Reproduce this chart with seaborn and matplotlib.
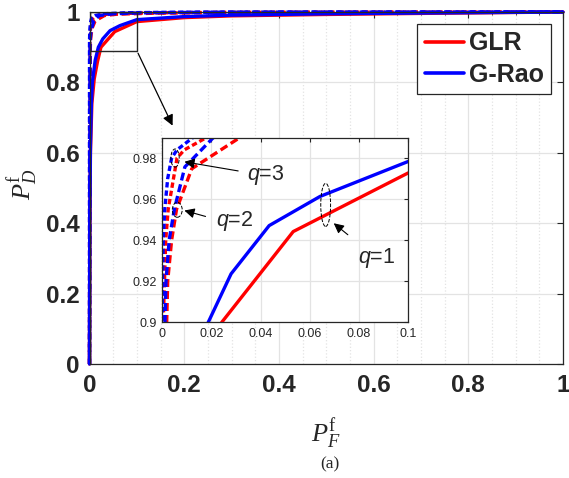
import numpy as np
import pandas as pd
import seaborn as sns
import matplotlib.pyplot as plt
from matplotlib.lines import Line2D
from matplotlib.patches import Rectangle, Ellipse
from matplotlib.ticker import FuncFormatter, MultipleLocator

# ROC points (PF, PD) for each detector / q
glr_q1_pf = [0, 0.0005, 0.002, 0.005, 0.01, 0.017, 0.0242, 0.0533, 0.1, 0.2, 0.3, 0.5, 0.7, 1.0]
glr_q1_pd = [0, 0.35, 0.6, 0.74, 0.81, 0.86, 0.9, 0.9442, 0.9727, 0.984, 0.989, 0.993, 0.996, 1.0]
rao_q1_pf = [0, 0.0005, 0.002, 0.004, 0.006, 0.012, 0.0187, 0.028, 0.0435, 0.0642, 0.1, 0.2, 0.3, 0.5, 0.7, 1.0]
rao_q1_pd = [0, 0.4, 0.62, 0.74, 0.80, 0.863, 0.9, 0.9236, 0.9471, 0.9613, 0.9783, 0.987, 0.991, 0.995, 0.997, 1.0]

glr_q2_pf = [0, 0.0018, 0.0022, 0.0038, 0.0058, 0.012, 0.0316, 0.06, 0.15, 0.35, 1.0]
glr_q2_pd = [0, 0.9, 0.92, 0.94, 0.955, 0.9748, 0.99, 0.994, 0.997, 0.999, 1.0]
rao_q2_pf = [0, 0.0011, 0.0015, 0.0028, 0.0049, 0.0092, 0.0208, 0.05, 0.12, 0.3, 1.0]
rao_q2_pd = [0, 0.9, 0.92, 0.94, 0.955, 0.9757, 0.99, 0.995, 0.998, 0.9995, 1.0]

glr_q3_pf = [0, 0.0004, 0.0009, 0.0014, 0.0024, 0.006, 0.009, 0.018, 0.04, 0.1, 0.25, 1.0]
glr_q3_pd = [0, 0.9, 0.92, 0.94, 0.955, 0.98, 0.984, 0.99, 0.994, 0.997, 0.999, 1.0]
rao_q3_pf = [0, 0, 0.0001, 0.0004, 0.001, 0.0022, 0.0038, 0.006, 0.0125, 0.03, 0.08, 0.2, 1.0]
rao_q3_pd = [0, 0.9, 0.92, 0.94, 0.955, 0.97, 0.98, 0.984, 0.99, 0.995, 0.998, 0.9995, 1.0]

methods = ['GLR', 'G-Rao']
curves = [
    ('GLR', 1, glr_q1_pf, glr_q1_pd), ('G-Rao', 1, rao_q1_pf, rao_q1_pd),
    ('GLR', 2, glr_q2_pf, glr_q2_pd), ('G-Rao', 2, rao_q2_pf, rao_q2_pd),
    ('GLR', 3, glr_q3_pf, glr_q3_pd), ('G-Rao', 3, rao_q3_pf, rao_q3_pd),
]
rows = []
for m, q, pf, pd_ in curves:
    for a, b in zip(pf, pd_):
        rows.append({'method': m, 'q': q, 'PF': a, 'PD': b})
df = pd.DataFrame(rows)

sns.set_style('white')
plt.rcParams['font.family'] = ['Liberation Sans', 'DejaVu Sans']
plt.rcParams['mathtext.fontset'] = 'custom'
plt.rcParams['mathtext.rm'] = 'Liberation Serif'
plt.rcParams['mathtext.it'] = 'Liberation Serif:italic'
plt.rcParams['mathtext.sf'] = 'Liberation Sans:italic'

palette = {'GLR': '#ff0000', 'G-Rao': '#0000ff'}
dashes = {1: '', 2: (2.4, 1.2), 3: (1.6, 0.9)}
tick_col = '#262626'

fig = plt.figure(figsize=(5.69, 4.78), dpi=100)
ax = fig.add_axes([0.1573, 0.2385, 0.8322, 0.7364])

sns.lineplot(data=df, x='PF', y='PD', hue='method', style='q', palette=palette,
             dashes=dashes, estimator=None, sort=False, lw=2.4,
             legend=False, ax=ax)
for ln in ax.get_lines():
    ln.set_clip_on(False)

ax.set_xlim(0, 1)
ax.set_ylim(0, 1)
ax.xaxis.set_major_locator(MultipleLocator(0.2))
ax.xaxis.set_minor_locator(MultipleLocator(0.05))
ax.yaxis.set_major_locator(MultipleLocator(0.2))
fmt = FuncFormatter(lambda v, p: '%g' % round(v, 3))
ax.xaxis.set_major_formatter(fmt)
ax.yaxis.set_major_formatter(fmt)
ax.grid(True, which='major', color='#e3e3e3', lw=0.9)
ax.grid(True, which='minor', axis='x', color='#e3e3e3', lw=0.9, ls=':')
ax.set_axisbelow(True)
ax.tick_params(which='both', direction='in', top=True, right=True, colors=tick_col,
               labelsize=17.5, pad=7)
ax.tick_params(which='major', length=4)
ax.tick_params(which='minor', length=2.5)
for lab in ax.get_xticklabels() + ax.get_yticklabels():
    lab.set_fontweight('bold')
for sp in ax.spines.values():
    sp.set_color(tick_col)
    sp.set_linewidth(0.9)

ax.set_xlabel(r'$P_F^{\mathrm{f}}$', fontsize=19, color=tick_col)
ax.set_ylabel(r'$P_D^{\mathrm{f}}$', fontsize=19, color=tick_col)
ax.xaxis.set_label_coords(0.5, -0.15)
ax.yaxis.set_label_coords(-0.105, 0.51)

handles = [Line2D([], [], color=palette[m], lw=2.6) for m in methods]
leg = ax.legend(handles, methods, loc='upper right', bbox_to_anchor=(0.975, 0.966),
                borderaxespad=0, prop={'weight': 'bold', 'size': 18},
                handlelength=1.55, handletextpad=0.2, borderpad=0.3,
                labelspacing=0.3, fancybox=False, framealpha=1, edgecolor='#262626')
leg.get_frame().set_linewidth(0.9)

# zoom box and arrow to inset
ax.add_patch(Rectangle((0, 0.89), 0.1, 0.11, fill=False, ec='#262626', lw=1, zorder=5))
ax.annotate('', xy=(0.178, 0.67), xytext=(0.1, 0.89),
            arrowprops=dict(arrowstyle='-|>', color='k', lw=0.9, mutation_scale=16))

# inset
axin = fig.add_axes([0.2852, 0.3257, 0.4318, 0.3866])
sns.lineplot(data=df, x='PF', y='PD', hue='method', style='q', palette=palette,
             dashes=dashes, estimator=None, sort=False, lw=2.4, legend=False, ax=axin)
axin.set_xlim(0, 0.1)
axin.set_ylim(0.9, 0.99)
axin.set_xticks([0, 0.02, 0.04, 0.06, 0.08, 0.1])
axin.set_yticks([0.9, 0.92, 0.94, 0.96, 0.98])
axin.xaxis.set_major_formatter(fmt)
axin.yaxis.set_major_formatter(fmt)
axin.set_xlabel('')
axin.set_ylabel('')
axin.grid(True, color='#e3e3e3', lw=0.9)
axin.set_axisbelow(True)
axin.tick_params(direction='in', top=True, right=True, colors=tick_col, labelsize=9,
                 length=3, pad=4)
for sp in axin.spines.values():
    sp.set_color(tick_col)
    sp.set_linewidth(0.9)

ell_kw = dict(fill=False, ec='k', lw=0.7, ls='--', zorder=6)
axin.add_patch(Ellipse((0.0052, 0.980), 0.0034, 0.0088, **ell_kw))
axin.add_patch(Ellipse((0.0061, 0.9548), 0.0040, 0.0073, **ell_kw))
axin.add_patch(Ellipse((0.0665, 0.9572), 0.0040, 0.0210, **ell_kw))

arr = dict(arrowstyle='-|>', color='k', lw=0.8, mutation_scale=15)
axin.annotate('', xy=(0.0079, 0.9784), xytext=(0.032, 0.9735), arrowprops=arr)
axin.annotate('', xy=(0.0079, 0.9548), xytext=(0.0187, 0.9512), arrowprops=arr)
axin.annotate('', xy=(0.0689, 0.9491), xytext=(0.0764, 0.9418), arrowprops=arr)
axin.text(0.0422, 0.9718, r'$\mathsf{q}$=3', fontsize=15.5, va='center', ha='center')
axin.text(0.0295, 0.9495, r'$\mathsf{q}$=2', fontsize=15.5, va='center', ha='center')
axin.text(0.0874, 0.9312, r'$\mathsf{q}$=1', fontsize=15.5, va='center', ha='center')

fig.text(330 / 569, 1 - 464 / 478, '(a)', fontsize=12.5, family='Liberation Serif',
         ha='center', va='center')

fig.savefig('out.png', dpi=100)
